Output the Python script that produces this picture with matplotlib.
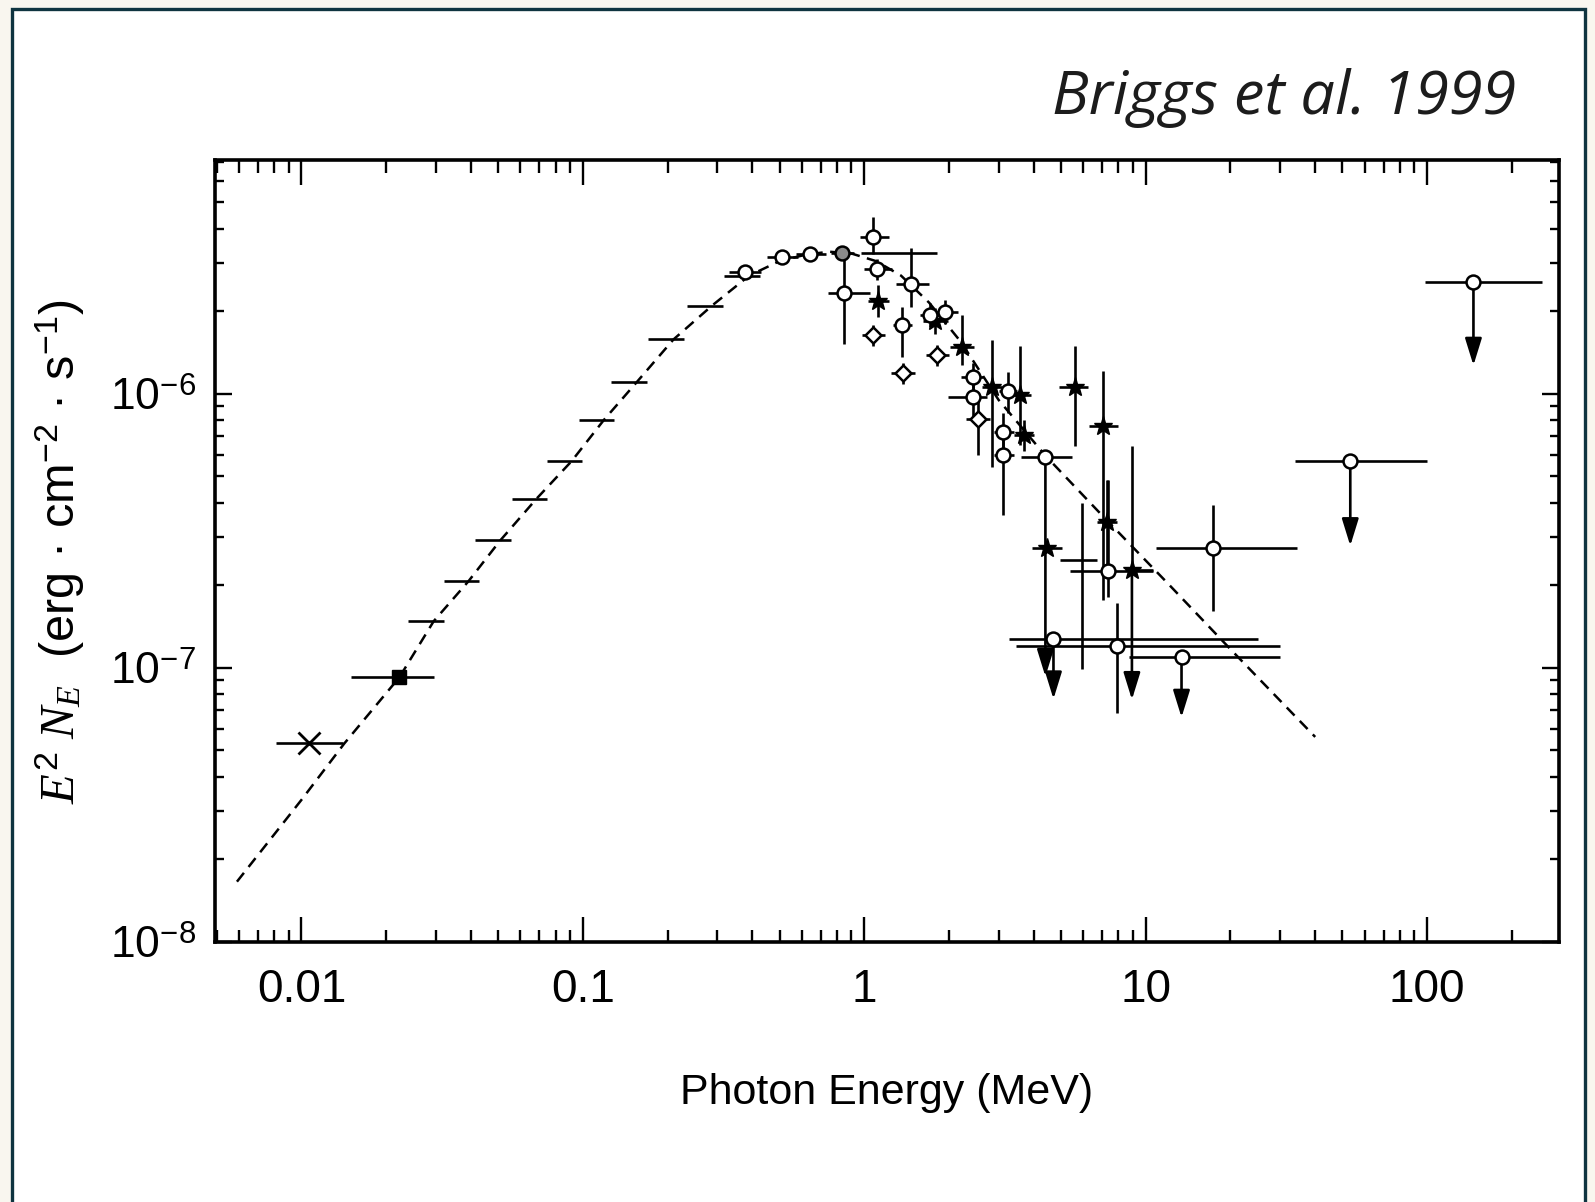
import numpy as np
import matplotlib
matplotlib.use("Agg")
import matplotlib.pyplot as plt
from matplotlib.patches import Rectangle
from matplotlib.ticker import FixedLocator, FixedFormatter, LogLocator, NullFormatter

plt.rcParams['font.family'] = ['Liberation Sans', 'DejaVu Sans']
plt.rcParams['mathtext.fontset'] = 'custom'
plt.rcParams['mathtext.rm'] = 'Liberation Sans'
plt.rcParams['mathtext.it'] = 'Liberation Serif:italic'
plt.rcParams['mathtext.bf'] = 'Liberation Sans:bold'

# ---------------- data ----------------
x_ticks = [0.01, 0.1, 1, 10, 100]
x_ticklabels = ['0.01', '0.1', '1', '10', '100']
y_ticks = [1e-8, 1e-7, 1e-6]
y_ticklabels = ['$10^{-8}$', '$10^{-7}$', '$10^{-6}$']

# dashed model curve (read along the dashes)
model_E = [0.0059, 0.0100, 0.0142, 0.0223, 0.0295, 0.0392, 0.0509, 0.0684, 0.0912, 0.119,
           0.155, 0.210, 0.288, 0.39, 0.50, 0.62, 0.75, 0.90, 1.10, 1.35, 1.70, 2.20,
           3.00, 4.40, 7.00, 12.0, 20.0, 40.0]
model_F = [1.66e-8, 3.3e-8, 5.3e-8, 9.25e-8, 1.48e-7, 2.07e-7, 2.92e-7, 4.14e-7, 5.68e-7,
           8.05e-7, 1.10e-6, 1.58e-6, 2.10e-6, 2.70e-6, 3.05e-6, 3.22e-6, 3.3e-6, 3.25e-6,
           3.05e-6, 2.7e-6, 2.15e-6, 1.55e-6, 9.5e-7, 5.95e-7, 3.6e-7, 2.03e-7, 1.17e-7, 5.6e-8]

# low-energy binned points (horizontal bars)
bat_E = [0.0278, 0.0370, 0.0480, 0.0645, 0.0860, 0.112, 0.146, 0.198, 0.272, 0.368]
bat_F = [1.48e-7, 2.07e-7, 2.92e-7, 4.14e-7, 5.68e-7, 8.05e-7, 1.10e-6, 1.58e-6, 2.10e-6, 2.70e-6]
bat_lo = [0.0240, 0.0320, 0.0415, 0.0558, 0.0744, 0.0969, 0.126, 0.171, 0.235, 0.318]
bat_hi = [0.0321, 0.0428, 0.0555, 0.0746, 0.0994, 0.1295, 0.169, 0.229, 0.314, 0.425]

# open circles
circ_E = [0.378, 0.511, 0.643, 0.845, 1.074, 1.11, 1.46, 1.36, 1.71, 1.94, 2.44, 2.44,
          3.25, 3.12, 3.12, 4.40, 17.4, 7.89, 7.37, 4.70, 13.4, 53.3, 146.0]
circ_F = [2.78e-6, 3.16e-6, 3.24e-6, 2.33e-6, 3.73e-6, 2.86e-6, 2.52e-6, 1.78e-6, 1.94e-6,
          1.99e-6, 1.15e-6, 9.75e-7, 1.02e-6, 7.27e-7, 5.98e-7, 5.90e-7, 2.74e-7, 1.20e-7,
          2.25e-7, 1.27e-7, 1.10e-7, 5.67e-7, 2.56e-6]
circ_xlo = [0.33, 0.45, 0.57, 0.745, 0.968, 1.00, 1.30, 1.26, 1.58, 1.80, 2.20, 1.99,
            3.00, 2.90, 2.90, 3.60, 10.9, 3.46, 5.39, 3.26, 8.7, 33.8, 98.5]
circ_xhi = [0.43, 0.58, 0.73, 1.05, 1.22, 1.25, 1.70, 1.48, 1.85, 2.15, 2.65, 2.73,
            3.50, 3.40, 3.40, 5.45, 34.4, 30.0, 10.6, 25.1, 30.0, 100.0, 255.0]
circ_ylo = [2.78e-6, 3.16e-6, 3.24e-6, 1.52e-6, 3.24e-6, 2.60e-6, 2.07e-6, 1.36e-6, 1.75e-6,
            1.80e-6, 1.00e-6, 8.2e-7, 8.5e-7, 6.2e-7, 3.6e-7, 5.90e-7, 1.61e-7, 6.86e-8,
            1.82e-7, 1.27e-7, 1.10e-7, 5.67e-7, 2.56e-6]
circ_yhi = [2.78e-6, 3.16e-6, 3.24e-6, 3.26e-6, 4.42e-6, 3.10e-6, 3.40e-6, 2.07e-6, 2.15e-6,
            2.20e-6, 1.30e-6, 1.15e-6, 1.20e-6, 8.5e-7, 7.3e-7, 5.90e-7, 3.93e-7, 1.73e-7,
            4.84e-7, 1.27e-7, 1.10e-7, 5.67e-7, 2.56e-6]

# asterisks
star_E = [1.12, 1.79, 2.22, 2.84, 3.58, 3.68, 5.61, 7.06, 4.45, 7.28, 8.93]
star_F = [2.19e-6, 1.85e-6, 1.48e-6, 1.06e-6, 9.9e-7, 7.08e-7, 1.06e-6, 7.62e-7, 2.74e-7,
          3.42e-7, 2.28e-7]
star_xlo = [1.03, 1.62, 2.02, 2.62, 3.30, 3.40, 4.90, 6.27, 3.94, 6.70, 8.45]
star_xhi = [1.22, 1.98, 2.45, 3.08, 3.90, 4.00, 6.24, 7.94, 5.03, 7.90, 10.6]
star_ylo = [1.90e-6, 1.65e-6, 1.27e-6, 5.42e-7, 6.5e-7, 6.2e-7, 6.45e-7, 1.77e-7, 2.74e-7,
            2.2e-7, 2.28e-7]
star_yhi = [2.50e-6, 2.05e-6, 1.94e-6, 1.57e-6, 1.50e-6, 8.0e-7, 1.49e-6, 1.21e-6, 2.74e-7,
            4.84e-7, 6.45e-7]

# open diamonds
dia_E = [1.07, 1.37, 1.81, 2.53]
dia_F = [1.64e-6, 1.19e-6, 1.38e-6, 8.1e-7]
dia_xlo = [0.98, 1.24, 1.65, 2.30]
dia_xhi = [1.18, 1.52, 2.00, 2.80]
dia_ylo = [1.50e-6, 1.09e-6, 1.26e-6, 6.0e-7]
dia_yhi = [1.79e-6, 1.30e-6, 1.51e-6, 9.9e-7]

# plain crosses (no marker)
cross_E = [1.30, 5.93]
cross_F = [3.26e-6, 2.48e-7]
cross_xlo = [0.97, 4.97]
cross_xhi = [1.81, 6.70]
cross_ylo = [3.26e-6, 9.9e-8]
cross_yhi = [3.26e-6, 4.0e-7]

# grey filled circle
grey_E = [0.833]
grey_F = [3.26e-6]
grey_xlo = [0.76]
grey_xhi = [0.92]

# X point and filled square
xpt_E = [0.0106]; xpt_F = [5.3e-8]; xpt_lo = [0.0081]; xpt_hi = [0.0140]
sq_E = [0.0223]; sq_F = [9.25e-8]; sq_lo = [0.0150]; sq_hi = [0.0296]

# upper limits (arrows)
ul_E = [4.40, 4.70, 8.93, 13.4, 53.3, 146.0]
ul_F = [5.9e-7, 1.27e-7, 2.28e-7, 1.10e-7, 5.67e-7, 2.56e-6]
ul_tip = [9.3e-8, 7.7e-8, 7.66e-8, 6.6e-8, 2.79e-7, 1.27e-6]

# ---------------- figure ----------------
W, H = 1595, 1202
fig = plt.figure(figsize=(W / 100, H / 100), dpi=100)
fig.patch.set_facecolor('#f9f6ef')
card = Rectangle((12 / W, -0.05), (1585 - 12) / W, 1 - 9.5 / H + 0.05,
                 transform=fig.transFigure, facecolor='white', edgecolor='#0f3440',
                 linewidth=2.4, zorder=-10)
fig.add_artist(card)

ax = fig.add_axes([215 / W, 1 - 942 / H, (1559 - 215) / W, (942 - 160) / H], zorder=5)
ax.set_facecolor('none')
ax.set_xscale('log')
ax.set_yscale('log')
ax.set_xlim(0.00493, 294)
ax.set_ylim(1e-8, 7.13e-6)

LW = 1.9


def draw(E, F, xlo, xhi, ylo, yhi, fmt, **kw):
    E = np.asarray(E); F = np.asarray(F)
    xerr = [E - np.asarray(xlo), np.asarray(xhi) - E]
    yerr = [F - np.asarray(ylo), np.asarray(yhi) - F]
    ax.errorbar(E, F, xerr=xerr, yerr=yerr, fmt=fmt, ecolor='black', elinewidth=LW,
                capsize=0, zorder=3, **kw)


ax.plot(model_E, model_F, color='black', lw=1.8, ls=(0, (4.5, 3)), zorder=2)

draw(bat_E, bat_F, bat_lo, bat_hi, bat_F, bat_F, 'none')
draw(cross_E, cross_F, cross_xlo, cross_xhi, cross_ylo, cross_yhi, 'none')
draw(star_E, star_F, star_xlo, star_xhi, star_ylo, star_yhi, '*',
     ms=14, mfc='black', mec='black')
draw(dia_E, dia_F, dia_xlo, dia_xhi, dia_ylo, dia_yhi, 'D',
     ms=8, mfc='white', mec='black', mew=1.8)
draw(circ_E, circ_F, circ_xlo, circ_xhi, circ_ylo, circ_yhi, 'o',
     ms=10, mfc='white', mec='black', mew=1.8)
draw(grey_E, grey_F, grey_xlo, grey_xhi, grey_F, grey_F, 'o',
     ms=10, mfc='#8a8a8a', mec='black', mew=1.8)
draw(xpt_E, xpt_F, xpt_lo, xpt_hi, xpt_F, xpt_F, 'x',
     ms=16, mec='black', mew=2.0)
draw(sq_E, sq_F, sq_lo, sq_hi, sq_F, sq_F, 's',
     ms=10, mfc='black', mec='black')

for e, f, t in zip(ul_E, ul_F, ul_tip):
    ax.annotate('', xy=(e, t), xytext=(e, f),
                arrowprops=dict(arrowstyle='-|>,head_length=0.55,head_width=0.17',
                                mutation_scale=30, lw=LW, color='black',
                                shrinkA=0, shrinkB=0), zorder=3)

# axes styling
for s in ax.spines.values():
    s.set_linewidth(2.6)
ax.xaxis.set_major_locator(FixedLocator(x_ticks))
ax.xaxis.set_major_formatter(FixedFormatter(x_ticklabels))
ax.xaxis.set_minor_locator(LogLocator(base=10, subs=np.arange(2, 10), numticks=50))
ax.xaxis.set_minor_formatter(NullFormatter())
ax.yaxis.set_major_locator(FixedLocator(y_ticks))
ax.yaxis.set_major_formatter(FixedFormatter(y_ticklabels))
ax.yaxis.set_minor_locator(LogLocator(base=10, subs=np.arange(2, 10), numticks=50))
ax.yaxis.set_minor_formatter(NullFormatter())

ax.tick_params(which='both', direction='in', top=True, right=True, width=1.7, color='black')
ax.tick_params(axis='x', which='major', length=18, pad=19, labelsize=33)
ax.tick_params(axis='x', which='minor', length=9)
ax.tick_params(axis='y', which='major', length=12, pad=14, labelsize=32)
ax.tick_params(axis='y', which='minor', length=6.5)

ax.set_xlabel('Photon Energy (MeV)', fontsize=31)
ax.xaxis.set_label_coords(0.5, -0.167)
ax.xaxis.label.set_va('top')

ax.set_ylabel(r'$E^{\mathit{2}}\ N_E$  (erg · cm$^{-2}$ · s$^{-1}$)', fontsize=35,
              family=['Liberation Sans', 'DejaVu Sans'])
ax.yaxis.set_label_coords((60 - 215) / (1559 - 215), (942 - 552) / (942 - 160))
ax.yaxis.label.set_va('center')

fig.text(1516 / W, 1 - 114 / H, 'Briggs et al. 1999', ha='right', va='baseline',
         fontsize=44, style='italic', family=['Open Sans', 'Lato', 'DejaVu Sans'],
         color='#1c1c1c')

fig.savefig('out.png', dpi=100, facecolor=fig.get_facecolor())
